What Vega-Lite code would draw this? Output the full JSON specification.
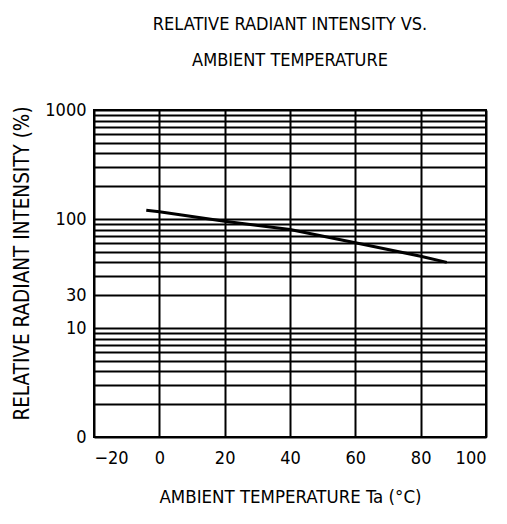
{
  "$schema": "https://vega.github.io/schema/vega-lite/v6.json",
  "autosize": {"type": "none"},
  "width": 392,
  "height": 327,
  "padding": {"left": 94, "top": 110, "right": 21, "bottom": 87},
  "background": "white",
  "title": {
    "text": ["RELATIVE RADIANT INTENSITY VS.", "AMBIENT TEMPERATURE"],
    "font": "DejaVu Sans Condensed, Liberation Sans Narrow, sans-serif",
    "fontSize": 18,
    "fontWeight": "normal",
    "color": "black",
    "lineHeight": 36,
    "anchor": "middle",
    "offset": 31
  },
  "config": {
    "view": {"stroke": "black", "strokeWidth": 2},
    "axis": {
      "labelFont": "DejaVu Sans Condensed, Liberation Sans Narrow, sans-serif",
      "titleFont": "DejaVu Sans Condensed, Liberation Sans Narrow, sans-serif",
      "labelColor": "black",
      "titleColor": "black",
      "titleFontWeight": "normal",
      "gridColor": "black",
      "gridWidth": 2,
      "gridOpacity": 1,
      "ticks": false,
      "domain": false,
      "labelOverlap": false
    }
  },
  "data": {
    "values": [
      {"temp": -4, "intensity": 120.5},
      {"temp": 0, "intensity": 116.5},
      {"temp": 20, "intensity": 95.5},
      {"temp": 40, "intensity": 80},
      {"temp": 60, "intensity": 60.5},
      {"temp": 80, "intensity": 45.5},
      {"temp": 88, "intensity": 40}
    ]
  },
  "mark": {"type": "line", "color": "black", "strokeWidth": 3},
  "encoding": {
    "x": {
      "field": "temp",
      "type": "quantitative",
      "scale": {"domain": [-20, 100], "nice": false},
      "axis": {
        "title": "AMBIENT TEMPERATURE Ta (°C)",
        "values": [-20, 0, 20, 40, 60, 80, 100],
        "labelFontSize": 18,
        "titleFontSize": 18.5,
        "labelPadding": 12,
        "titlePadding": 20,
        "grid": true
      }
    },
    "y": {
      "field": "intensity",
      "type": "quantitative",
      "scale": {"type": "log", "domain": [1, 1000], "nice": false},
      "axis": {
        "title": "RELATIVE RADIANT INTENSITY (%)",
        "values": [1, 2, 3, 4, 5, 6, 7, 8, 9, 10, 20, 30, 40, 50, 60, 70, 80, 90, 100, 200, 300, 400, 500, 600, 700, 800, 900, 1000],
        "labelExpr": "datum.value == 1 ? '0' : datum.value == 10 ? '10' : datum.value == 20 ? '30' : datum.value == 100 ? '100' : datum.value == 1000 ? '1000' : ''",
        "labelFontSize": 18,
        "titleFontSize": 20.5,
        "labelPadding": 8,
        "titlePadding": 12,
        "titleY": 153,
        "grid": true
      }
    }
  }
}
